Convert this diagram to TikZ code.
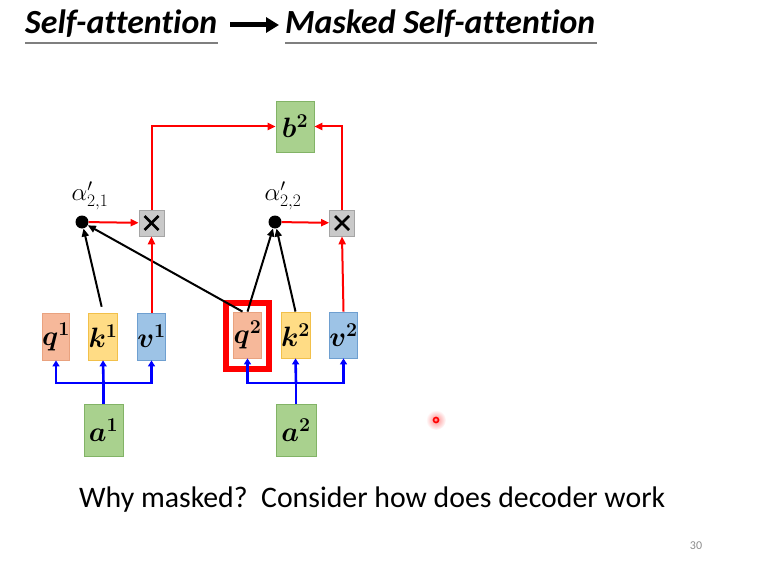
\RequirePackage{fix-cm}
\documentclass[tikz,border=0pt]{standalone}
\usepackage{amsmath,amssymb,bm}
\usepackage[no-math]{fontspec}
\newfontfamily\carlito[Ligatures=NoCommon]{Carlito}
\usetikzlibrary{arrows.meta,calc}
\definecolor{qfill}{HTML}{F6B89A}
\definecolor{qdraw}{HTML}{E9A27F}
\definecolor{kfill}{HTML}{FFDC85}
\definecolor{kdraw}{HTML}{F2C04A}
\definecolor{vfill}{HTML}{9DC3E6}
\definecolor{vdraw}{HTML}{6E9FD0}
\definecolor{gfill}{HTML}{A9D18E}
\definecolor{gdraw}{HTML}{82B366}
\definecolor{xfill}{HTML}{C9C9C9}
\definecolor{xdraw}{HTML}{A5A5A5}
\definecolor{uline}{HTML}{7F7F7F}
\definecolor{pnum}{HTML}{8C8C8C}
\begin{document}
\begin{tikzpicture}[x=1pt,y=-1pt,
  box/.style={draw, line width=0.8pt, inner sep=0pt, font=\fontsize{28}{30}\selectfont},
  qbox/.style={box, fill=qfill, draw=qdraw, minimum width=25pt, minimum height=47pt},
  kbox/.style={box, fill=kfill, draw=kdraw, minimum width=25pt, minimum height=47pt},
  vbox/.style={box, fill=vfill, draw=vdraw, minimum width=25pt, minimum height=47pt},
  gbox/.style={box, fill=gfill, draw=gdraw, minimum width=39pt, minimum height=52pt},
  xbox/.style={draw=xdraw, fill=xfill, line width=0.8pt, inner sep=0pt, minimum width=25pt, minimum height=26pt,
    path picture={\draw[draw=black, line width=2.6pt] ($(path picture bounding box.center)+(-7,-7)$) -- ++(14,14);
                  \draw[draw=black, line width=2.6pt] ($(path picture bounding box.center)+(-7,7)$) -- ++(14,-14);}},
  dotn/.style={circle, fill=black, minimum size=13pt, inner sep=0pt},
  alab/.style={inner sep=0pt, font=\fontsize{25}{28}\selectfont},
  redarr/.style={draw=red, line width=2pt, -{Triangle[length=8pt,width=7pt]}},
  blkarr/.style={draw=black, line width=2pt, -{Triangle[length=8pt,width=7pt]}},
  bluearr/.style={draw=blue, line width=2.6pt, -{Triangle[length=6pt,width=7pt]}},
  blueln/.style={draw=blue, line width=2.6pt},
  title/.style={anchor=base west, inner sep=0pt, font=\carlito\bfseries\itshape\fontsize{33.8}{36}\selectfont},
  uln/.style={draw=uline, line width=1.8pt}
]
\useasboundingbox (0,0) rectangle (760,567);

% title
\node[title] (t1) at (25,34) {Self-attention};
\node[title] (t2) at (285,34) {Masked Self-attention};
\coordinate (u1a) at (25,43); \coordinate (u1b) at (218,43);
\coordinate (u2a) at (285,43); \coordinate (u2b) at (597,43);
\draw[uln] (u1a) -- (u1b);
\draw[uln] (u2a) -- (u2b);
\coordinate (ta) at (230,25); \coordinate (tb) at (279,25);
\draw[line width=5pt, -{Triangle[length=13pt,width=15pt]}] (ta) -- (tb);

% red highlight frame around q2
\node[draw=red, line width=6pt, minimum width=43pt, minimum height=66pt, inner sep=0pt] (frame) at (247.5,336) {};

% boxes
\node[qbox] (q1) at (56,336.5) {$\bm{q}^{\bm{1}}$};
\node[kbox] (k1) at (103,336.5) {$\bm{k}^{\bm{1}}$};
\node[vbox] (v1) at (151.5,336.5) {$\bm{v}^{\bm{1}}$};
\node[qbox, minimum height=46pt] (q2) at (247.5,335) {$\bm{q}^{\bm{2}}$};
\node[kbox, minimum height=46pt] (k2) at (295.5,335) {$\bm{k}^{\bm{2}}$};
\node[vbox, minimum height=46pt] (v2) at (343.5,335) {$\bm{v}^{\bm{2}}$};
\node[gbox] (a1) at (103.5,430) {$\bm{a}^{\bm{1}}$};
\node[gbox, minimum width=40pt] (a2) at (296,430) {$\bm{a}^{\bm{2}}$};
\node[gbox, minimum width=38pt, minimum height=51pt] (b2) at (295,126.5) {$\bm{b}^{\bm{2}}$};

\node[xbox] (x1) at (151.5,223) {};
\node[xbox] (x2) at (342,223) {};

\node[dotn] (d1) at (82,222) {};
\node[dotn] (d2) at (275,222) {};
\node[alab] (al1) at (90,196) {$\alpha'_{2,1}$};
\node[alab] (al2) at (283,196) {$\alpha'_{2,2}$};

% blue connectors
\coordinate (j1) at (103.5,383);
\coordinate (j2) at (296,383);
\draw[blueln] (a1.north) -- (j1);
\draw[blueln] (a2.north) -- (j2);
\draw[bluearr] (j1) -| (q1.south);
\draw[bluearr] (j1) -- (k1.south);
\draw[bluearr] (j1) -| (v1.south);
\draw[bluearr] (j2) -| (q2.south);
\draw[bluearr] (j2) -- (k2.south);
\draw[bluearr] (j2) -| (v2.south);

% black connectors
\draw[blkarr, shorten <=6pt] (k1.north) -- (d1);
\draw[blkarr] ([xshift=-5pt]q2.north) -- (d1);
\draw[blkarr] (q2.north) -- (d2);
\draw[blkarr] (k2.north) -- (d2);

% red connectors
\draw[redarr] (d1) -- (x1);
\draw[redarr] (d2) -- (x2);
\draw[redarr] (v1.north) -- (x1.south);
\draw[redarr] (v2.north) -- (x2.south);
\draw[redarr] (x1.north) |- (b2.west);
\draw[redarr] (x2.north) |- (b2.east);

% bottom text
\node[anchor=base west, inner sep=0pt, font=\carlito\fontsize{29.8}{33}\selectfont] (why) at (79,507) {Why masked?\ \ Consider how does decoder work};
\node[inner sep=0pt, text=pnum, font=\carlito\fontsize{12}{13}\selectfont] (pg) at (696,545.5) {30};

% pointer highlight
\shade[inner color=red!45, outer color=white] (436,420) circle (10pt);
\draw[red, line width=1.6pt] (436,420) circle (2.5pt);
\end{tikzpicture}
\end{document}
